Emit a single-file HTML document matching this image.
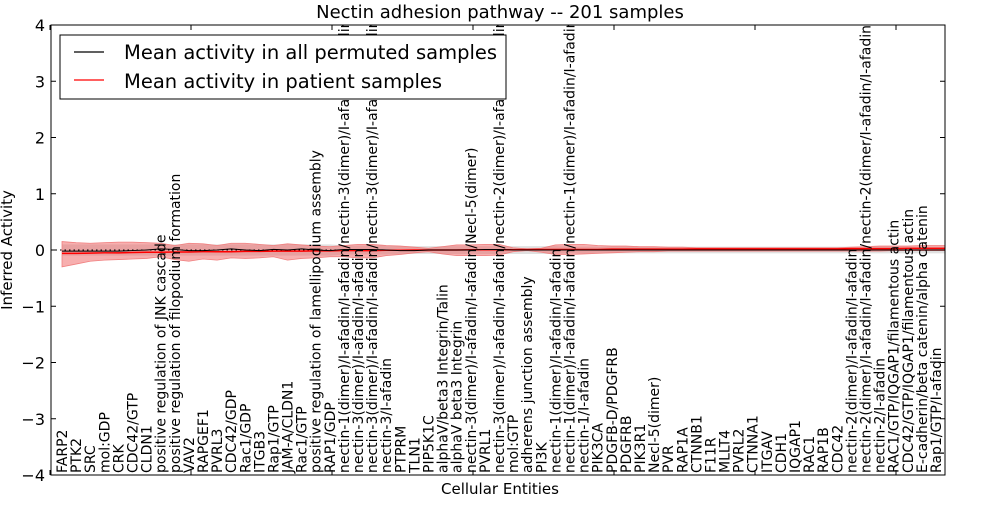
<!DOCTYPE html>
<html><head><meta charset="utf-8"><style>
body{margin:0;background:#fff;}
svg text{font-family:"DejaVu Sans","Liberation Sans",sans-serif;}
</style></head><body>
<svg id="chart" width="1000" height="500" viewBox="0 0 1000 500">
<defs><clipPath id="pc"><rect x="51" y="25" width="894" height="450"/></clipPath></defs>
<rect x="0" y="0" width="1000" height="500" fill="#fff"/>
<text x="500" y="18" font-size="18" text-anchor="middle">Nectin adhesion pathway -- 201 samples</text>
<g id="bands" clip-path="url(#pc)"></g>
<g id="lines" clip-path="url(#pc)"></g>
<g id="labels" clip-path="url(#pc)"></g>
<g id="axes"></g>
<text x="500" y="494" font-size="15" text-anchor="middle">Cellular Entities</text>
<text transform="translate(12,250) rotate(-90)" font-size="15" text-anchor="middle">Inferred Activity</text>
<g>
<rect x="60" y="35" width="446" height="64" fill="#fff" stroke="#000" stroke-width="1"/>
<line x1="74" y1="52" x2="104" y2="52" stroke="#000" stroke-width="1.2"/>
<text x="124" y="59" font-size="19.5">Mean activity in all permuted samples</text>
<line x1="74" y1="80" x2="104" y2="80" stroke="#f00" stroke-width="1.2"/>
<text x="124" y="88" font-size="19.5">Mean activity in patient samples</text>
</g>
</svg>
<script>
const categories=["FARP2","PTK2","SRC","mol:GDP","CRK","CDC42/GTP","CLDN1","positive regulation of JNK cascade","positive regulation of filopodium formation","VAV2","RAPGEF1","PVRL3","CDC42/GDP","Rac1/GDP","ITGB3","Rap1/GTP","JAM-A/CLDN1","Rac1/GTP","positive regulation of lamellipodium assembly","RAP1/GDP","nectin-1(dimer)/I-afadin/I-afadin/nectin-3(dimer)/I-afadin/I-afadin","nectin-3(dimer)/I-afadin/I-afadin","nectin-3(dimer)/I-afadin/I-afadin/nectin-3(dimer)/I-afadin/I-afadin","nectin-3/I-afadin","PTPRM","TLN1","PIP5K1C","alphaV/beta3 Integrin/Talin","alphaV beta3 Integrin","nectin-3(dimer)/I-afadin/I-afadin/Necl-5(dimer)","PVRL1","nectin-3(dimer)/I-afadin/I-afadin/nectin-2(dimer)/I-afadin/I-afadin","mol:GTP","adherens junction assembly","PI3K","nectin-1(dimer)/I-afadin/I-afadin","nectin-1(dimer)/I-afadin/I-afadin/nectin-1(dimer)/I-afadin/I-afadin","nectin-1/I-afadin","PIK3CA","PDGFB-D/PDGFRB","PDGFRB","PIK3R1","Necl-5(dimer)","PVR","RAP1A","CTNNB1","F11R","MLLT4","PVRL2","CTNNA1","ITGAV","CDH1","IQGAP1","RAC1","RAP1B","CDC42","nectin-2(dimer)/I-afadin/I-afadin","nectin-2(dimer)/I-afadin/I-afadin/nectin-2(dimer/I-afadin/I-afadin","nectin-2/I-afadin","RAC1/GTP/IQGAP1/filamentous actin","CDC42/GTP/IQGAP1/filamentous actin","E-cadherin/beta catenin/alpha catenin","Rap1/GTP/I-afadin"];
const permMean=[-0.02,-0.02,-0.02,-0.02,-0.02,-0.01,0.0,0.02,0.01,-0.01,-0.01,0.0,0.02,0.0,-0.01,0.01,0.0,0.02,0.0,-0.01,0.01,0.01,0.01,0.0,-0.01,-0.01,0.0,0.0,0.0,0.0,0.01,0.01,0.0,0.0,0.0,0.0,0.0,0.0,0.0,0.0,0.0,0.0,0.0,0.0,0.0,0.0,0.0,0.0,0.0,0.0,0.0,0.0,0.0,0.0,0.0,0.0,0.0,0.0,0.0,0.0,0.0,0.0,0.0,0.0,0.0,0.0];
const patientMean=[-0.06,-0.06,-0.055,-0.05,-0.05,-0.045,-0.04,-0.04,-0.035,-0.035,-0.03,-0.03,-0.03,-0.025,-0.025,-0.02,-0.02,-0.02,-0.015,-0.015,-0.01,-0.01,-0.01,-0.005,-0.005,0.0,0.0,0.0,0.0,0.005,0.005,0.005,0.005,0.01,0.01,0.01,0.01,0.01,0.01,0.015,0.015,0.015,0.015,0.015,0.015,0.02,0.02,0.02,0.02,0.02,0.02,0.02,0.02,0.02,0.02,0.02,0.025,0.025,0.025,0.025,0.03,0.03,0.03,0.03,0.035,0.035];
const patientHi=[0.15,0.13,0.12,0.13,0.14,0.14,0.13,0.12,0.08,0.12,0.11,0.08,0.12,0.12,0.1,0.08,0.11,0.09,0.07,0.06,0.08,0.1,0.1,0.08,0.07,0.05,0.03,0.06,0.09,0.09,0.1,0.1,0.04,0.02,0.03,0.09,0.1,0.1,0.08,0.07,0.07,0.06,0.06,0.05,0.05,0.04,0.04,0.04,0.04,0.04,0.04,0.04,0.04,0.04,0.04,0.04,0.05,0.06,0.07,0.07,0.07,0.08,0.08,0.08,0.08,0.08];
const patientLo=[-0.3,-0.25,-0.2,-0.18,-0.17,-0.16,-0.15,-0.12,-0.17,-0.2,-0.16,-0.18,-0.14,-0.15,-0.14,-0.12,-0.18,-0.15,-0.14,-0.12,-0.12,-0.14,-0.14,-0.1,-0.08,-0.05,-0.03,-0.07,-0.1,-0.1,-0.1,-0.09,-0.03,-0.01,-0.04,-0.08,-0.08,-0.07,-0.06,-0.05,-0.04,-0.03,-0.03,-0.02,-0.02,-0.02,-0.02,-0.02,-0.02,-0.02,-0.02,-0.02,-0.02,-0.02,-0.02,-0.02,-0.02,-0.02,-0.02,-0.01,-0.01,-0.01,-0.01,-0.01,0.0,0.0];
const permHi=[0.1,0.1,0.1,0.1,0.1,0.1,0.1,0.1,0.1,0.1,0.1,0.1,0.1,0.1,0.1,0.1,0.1,0.1,0.1,0.1,0.08,0.08,0.08,0.08,0.07,0.07,0.07,0.07,0.07,0.07,0.07,0.07,0.07,0.07,0.07,0.07,0.06,0.06,0.06,0.06,0.06,0.06,0.06,0.06,0.06,0.06,0.06,0.06,0.06,0.06,0.06,0.06,0.06,0.06,0.06,0.06,0.06,0.06,0.06,0.06,0.06,0.06,0.06,0.06,0.06,0.06];
const permLo=[-0.1,-0.1,-0.1,-0.1,-0.1,-0.1,-0.1,-0.1,-0.1,-0.1,-0.1,-0.1,-0.1,-0.1,-0.1,-0.1,-0.1,-0.1,-0.1,-0.1,-0.08,-0.08,-0.08,-0.08,-0.07,-0.07,-0.07,-0.07,-0.07,-0.07,-0.07,-0.07,-0.07,-0.07,-0.07,-0.07,-0.06,-0.06,-0.06,-0.06,-0.06,-0.06,-0.06,-0.06,-0.06,-0.06,-0.06,-0.06,-0.06,-0.06,-0.06,-0.06,-0.06,-0.06,-0.06,-0.06,-0.06,-0.06,-0.06,-0.06,-0.06,-0.06,-0.06,-0.06,-0.06,-0.06];
const yTicks=[-4,-3,-2,-1,0,1,2,3,4];
const xTicks=[0,10,20,30,40,50,60];

const NS="http://www.w3.org/2000/svg";
const L=51,R=945,T=25,B=475;
const n=categories.length;
function xPos(i){return 62+i*(936-62)/(n-1);}
function yPos(v){return B-(v+4)/8*(B-T);}
function xTickPos(v){return 50+v*14.1;}
function mk(tag,attrs,parent){const e=document.createElementNS(NS,tag);for(const k in attrs)e.setAttribute(k,attrs[k]);parent.appendChild(e);return e;}
function area(hi,lo){let d="";hi.forEach((v,i)=>{d+=(i?"L":"M")+xPos(i)+","+yPos(v);});for(let i=lo.length-1;i>=0;i--)d+="L"+xPos(i)+","+yPos(lo[i]);return d+"Z";}
function line(arr){return arr.map((v,i)=>(i?"L":"M")+xPos(i)+","+yPos(v)).join("");}

const bands=document.getElementById("bands");
const pb=mk("path",{d:area(permHi,permLo),fill:"#bbb","fill-opacity":"0.45",stroke:"none"},bands);


const rb=mk("path",{d:area(patientHi,patientLo),fill:"#f06060","fill-opacity":"0.5",stroke:"#f08080","stroke-width":"0.8"},bands);



const lines=document.getElementById("lines");
const zl=mk("line",{x1:L,x2:R,y1:yPos(0),y2:yPos(0),stroke:"#000","stroke-width":"1","stroke-dasharray":"1.5,3"},lines);


const pl=mk("path",{d:line(patientMean),fill:"none",stroke:"#f00","stroke-width":"1.5"},lines);


const bl=mk("path",{d:line(permMean),fill:"none",stroke:"#000","stroke-width":"1"},lines);



const labels=document.getElementById("labels");
categories.forEach((c,i)=>{
  const x=xPos(i)+5;
  const t=mk("text",{transform:"translate("+x+","+(B-2)+") rotate(-90)","font-size":"14"},labels);
  t.textContent=c;
  
  
});

const axes=document.getElementById("axes");
const fr=mk("rect",{x:L,y:T,width:R-L,height:B-T,fill:"none",stroke:"#000","stroke-width":"1"},axes);


yTicks.forEach(v=>{
  const y=yPos(v);
  mk("line",{x1:L,x2:L+5,y1:y,y2:y,stroke:"#000"},axes);
  mk("line",{x1:R-5,x2:R,y1:y,y2:y,stroke:"#000"},axes);
  const t=mk("text",{x:L-6,y:y+6,"font-size":"16","text-anchor":"end"},axes);
  t.textContent=(v<0?"\u2212":"")+Math.abs(v);
  
  
});
xTicks.forEach(v=>{
  const x=xTickPos(v);
  mk("line",{x1:x,x2:x,y1:T,y2:T+5,stroke:"#000"},axes);
  mk("line",{x1:x,x2:x,y1:B-5,y2:B,stroke:"#000"},axes);
});
</script>
</body></html>
